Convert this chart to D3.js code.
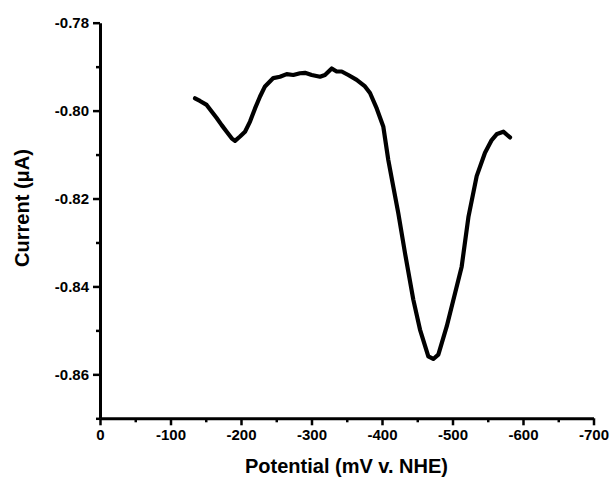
<!DOCTYPE html>
<html><head><meta charset="utf-8">
<script src="https://cdn.jsdelivr.net/npm/d3@7/dist/d3.min.js"></script>
<style>body{margin:0;background:#fff}svg{display:block}text{font-family:"Liberation Sans",Arial,sans-serif;font-weight:bold;fill:#000}</style>
</head><body><svg id="c" width="611" height="480"></svg>
<script>
const potential = [-134.8,-141.8,-151.3,-158.4,-165.5,-172.6,-179.7,-186.8,-191.5,-198.6,-205.7,-212.8,-219.9,-227.0,-234.0,-245.8,-255.3,-264.8,-274.2,-283.7,-290.8,-300.3,-312.1,-319.1,-328.7,-335.7,-342.8,-352.2,-364.1,-375.9,-383.0,-392.5,-401.8,-408.9,-416.0,-423.1,-432.6,-444.4,-453.9,-465.7,-472.8,-479.9,-491.8,-506.0,-513.0,-522.7,-534.3,-546.1,-555.6,-563.1,-572.1,-581.6];
const current = [-0.7972,-0.7978,-0.7987,-0.8002,-0.8017,-0.8033,-0.8048,-0.8063,-0.8069,-0.8059,-0.8048,-0.8025,-0.7995,-0.7968,-0.7945,-0.7926,-0.7923,-0.7917,-0.7919,-0.7915,-0.7914,-0.7919,-0.7923,-0.7919,-0.7904,-0.7911,-0.7911,-0.7919,-0.7930,-0.7945,-0.7960,-0.7995,-0.8036,-0.8112,-0.8173,-0.8233,-0.8324,-0.8430,-0.8498,-0.8559,-0.8565,-0.8555,-0.8491,-0.8400,-0.8355,-0.8241,-0.8149,-0.8096,-0.8067,-0.8053,-0.8048,-0.8061];
const xTicks = [0,-100,-200,-300,-400,-500,-600,-700];
const xMinor = [-50,-150,-250,-350,-450,-550,-650];
const yTicks = [-0.78,-0.80,-0.82,-0.84,-0.86];
const yMinor = [-0.79,-0.81,-0.83,-0.85,-0.87];
const xTitle = "Potential (mV v. NHE)";
const yTitle = "Current (μA)";

const hy = s => s.replace("\u2212","-");
const svg = d3.select("#c");
const x = d3.scaleLinear().domain([0,-700]).range([100,593.5]);
const y = d3.scaleLinear().domain([-0.87,-0.78]).range([418.3,22.7]);

const gx = svg.append("g").attr("transform","translate(0,418.3)");
gx.call(d3.axisBottom(x).tickValues(xMinor).tickSize(4).tickFormat(""));
gx.select(".domain").remove();
gx.selectAll(".tick line").attr("stroke-width",2.5);
const gx2 = svg.append("g").attr("transform","translate(0,418.3)");
gx2.call(d3.axisBottom(x).tickValues(xTicks).tickSize(7).tickSizeOuter(0).tickPadding(4).tickFormat(d=>hy(d3.format("d")(d))));
gx2.select(".domain").attr("stroke-width",3);
gx2.selectAll(".tick line").attr("stroke-width",2.5);
gx2.selectAll("text").style("font-size","15px");

const gy = svg.append("g").attr("transform","translate(100,0)");
gy.call(d3.axisLeft(y).tickValues(yMinor).tickSize(4).tickFormat(""));
gy.select(".domain").remove();
gy.selectAll(".tick line").attr("stroke-width",2.5);
const gy2 = svg.append("g").attr("transform","translate(100,0)");
gy2.call(d3.axisLeft(y).tickValues(yTicks).tickSize(7).tickSizeOuter(0).tickPadding(4).tickFormat(d=>hy(d3.format(".2f")(d))));
gy2.select(".domain").attr("stroke-width",3);
gy2.selectAll(".tick line").attr("stroke-width",2.5);
gy2.selectAll("text").style("font-size","15px");

const line = d3.line().x((d,i)=>x(potential[i])).y((d,i)=>y(current[i]));
svg.append("path").datum(current).attr("d",line).attr("fill","none").attr("stroke","#000").attr("stroke-width",4.2).attr("stroke-linejoin","round").attr("stroke-linecap","round");

svg.append("text").attr("x",346.5).attr("y",473).attr("text-anchor","middle").style("font-size","20px").text(xTitle);
svg.append("text").attr("transform","translate(29,208) rotate(-90)").attr("text-anchor","middle").style("font-size","20px").text(yTitle);
</script></body></html>
